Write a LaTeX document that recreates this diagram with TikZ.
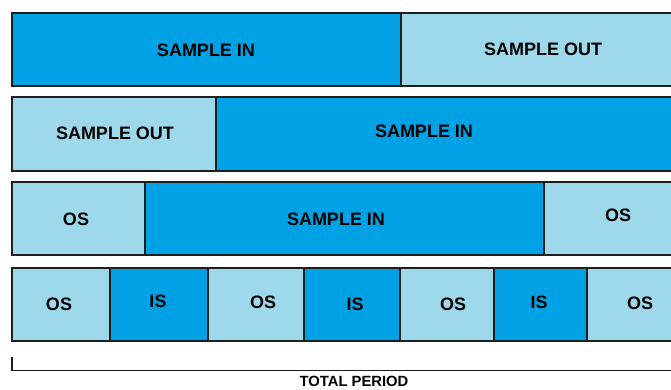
\documentclass[tikz,border=0pt]{standalone}
\usepackage{fontspec}
\setmainfont{Liberation Sans}
\definecolor{dk}{HTML}{00A2E5}
\definecolor{lt}{HTML}{9DD9EA}
\definecolor{edge}{HTML}{1E1E1E}
\begin{document}
\begin{tikzpicture}[x=1pt,y=-1pt,
  seg/.style={draw=edge, line width=1.6pt, anchor=north west, inner sep=0pt, outer sep=0pt},
  dkseg/.style={seg, fill=dk},
  ltseg/.style={seg, fill=lt},
  lab/.style={font=\bfseries\fontsize{18}{20}\selectfont, text=black, inner sep=0pt},
  per/.style={font=\bfseries\fontsize{14.8}{16}\selectfont, text=black, inner sep=0pt}]
\useasboundingbox (0,0) rectangle (671,389);
\clip (0,0) rectangle (671,389);
% row 1
\node[dkseg, minimum width=389pt, minimum height=73pt] (r1a) at (12,13) {};
\node[ltseg, minimum width=290pt, minimum height=73pt] (r1b) at (401,13) {};
\node[lab] (l1a) at (206,50) {SAMPLE IN};
\node[lab] (l1b) at (543,49) {SAMPLE OUT};
% row 2
\node[ltseg, minimum width=204pt, minimum height=74pt] (r2a) at (12,97) {};
\node[dkseg, minimum width=475pt, minimum height=74pt] (r2b) at (216,97) {};
\node[lab] (l2a) at (115,133) {SAMPLE OUT};
\node[lab] (l2b) at (424,131) {SAMPLE IN};
% row 3
\node[ltseg, minimum width=133pt, minimum height=73pt] (r3a) at (12,182) {};
\node[dkseg, minimum width=399pt, minimum height=73pt] (r3b) at (145,182) {};
\node[ltseg, minimum width=146pt, minimum height=73pt] (r3c) at (544,182) {};
\node[lab] (l3a) at (76,219) {OS};
\node[lab] (l3b) at (336,219) {SAMPLE IN};
\node[lab] (l3c) at (618,215) {OS};
% row 4
\node[ltseg, minimum width=98pt, minimum height=73pt] (r4a) at (12,268) {};
\node[dkseg, minimum width=98pt, minimum height=73pt] (r4b) at (110,268) {};
\node[ltseg, minimum width=96pt, minimum height=73pt] (r4c) at (208,268) {};
\node[dkseg, minimum width=96pt, minimum height=73pt] (r4d) at (304,268) {};
\node[ltseg, minimum width=94pt, minimum height=73pt] (r4e) at (400,268) {};
\node[dkseg, minimum width=93pt, minimum height=73pt] (r4f) at (494,268) {};
\node[ltseg, minimum width=103pt, minimum height=73pt] (r4g) at (587,268) {};
\node[lab] (l4a) at (59,304) {OS};
\node[lab] (l4b) at (158,301) {IS};
\node[lab] (l4c) at (263,302) {OS};
\node[lab] (l4d) at (355,304) {IS};
\node[lab] (l4e) at (453,304) {OS};
\node[lab] (l4f) at (539,302) {IS};
\node[lab] (l4g) at (640,303) {OS};
% bracket
\coordinate (bt) at (12,357);
\coordinate (bc) at (12,370.5);
\coordinate (be) at (690,370.5);
\draw[draw=edge, line width=1.8pt] (bt) -- (bc) -- (be);
\node[per] (tp) at (354,381.5) {TOTAL PERIOD};
\end{tikzpicture}
\end{document}
